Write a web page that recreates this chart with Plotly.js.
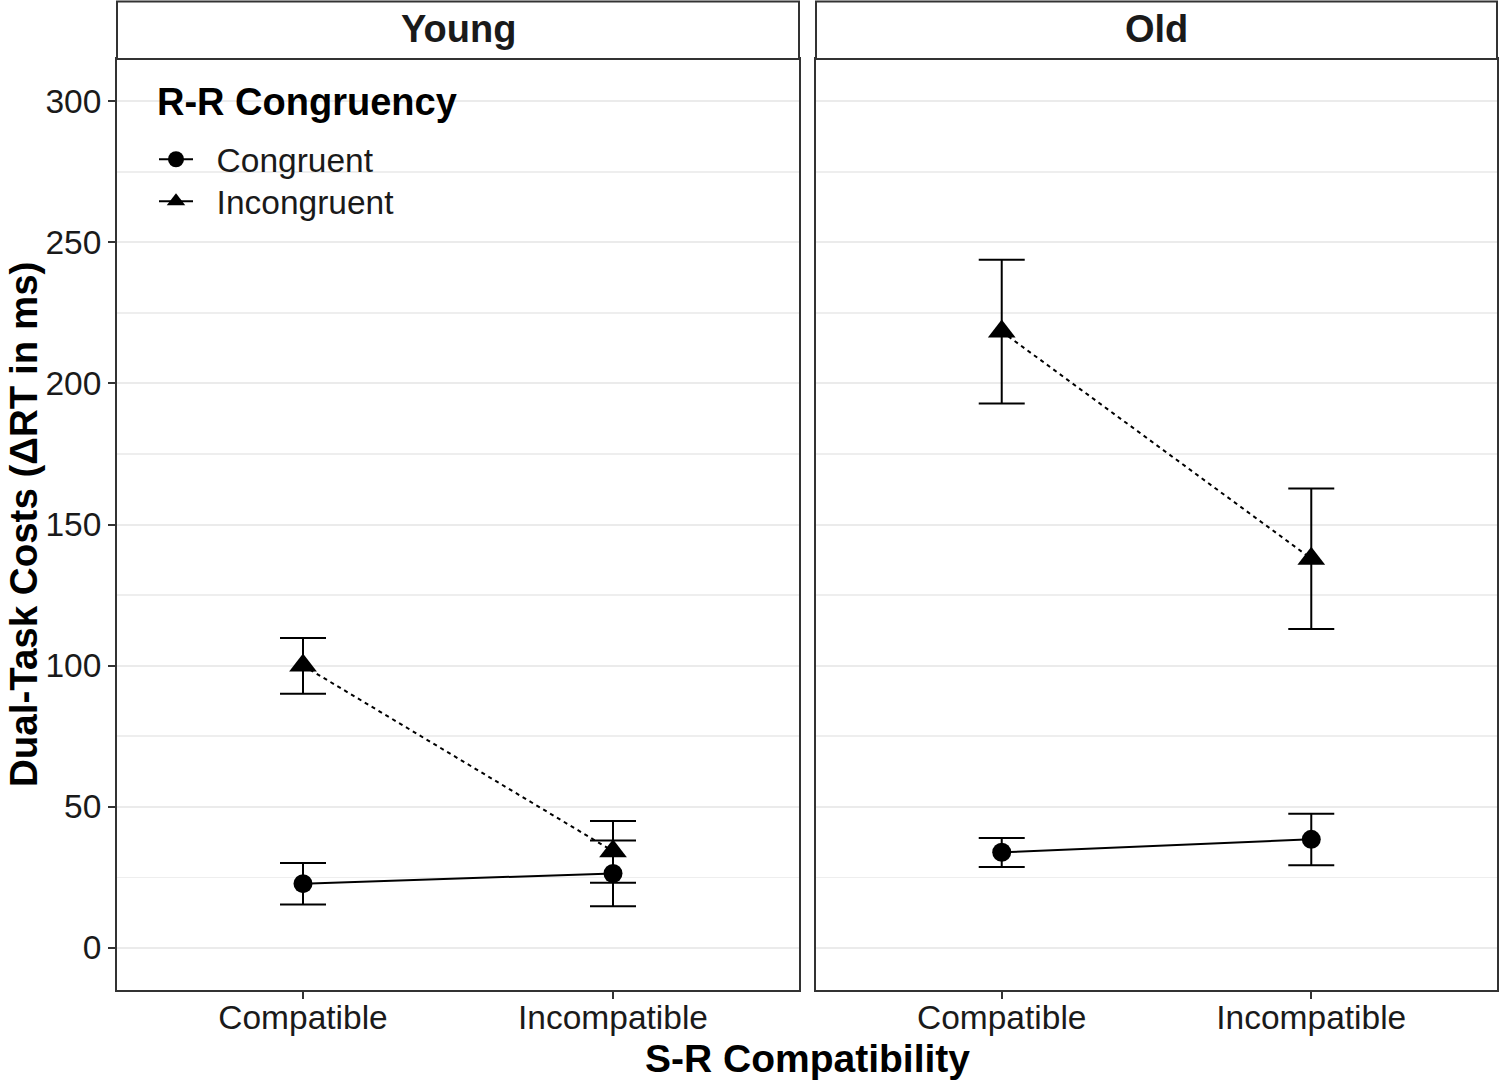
<!DOCTYPE html>
<html><head><meta charset="utf-8">
<script src="https://cdn.plot.ly/plotly-3.0.1.min.js"></script>
<style>html,body{margin:0;padding:0;background:#fff}</style>
</head><body><div id="chart" style="width:1499px;height:1081px"></div>
<script>
const categories = ['Compatible', 'Incompatible'];
const panels = ['Young', 'Old'];
const seriesNames = ['Congruent', 'Incongruent'];
const legendTitle = 'R-R Congruency';
const youngCongMean = [22.7, 26.3];
const youngCongLow = [15.3, 14.7];
const youngCongHigh = [30.0, 38.0];
const youngIncongMean = [100.0, 34.2];
const youngIncongLow = [90.0, 23.0];
const youngIncongHigh = [109.8, 44.9];
const oldCongMean = [33.8, 38.4];
const oldCongLow = [28.6, 29.2];
const oldCongHigh = [38.9, 47.5];
const oldIncongMean = [218.4, 137.9];
const oldIncongLow = [192.9, 113.0];
const oldIncongHigh = [243.8, 162.8];
const yTicks = [0, 50, 100, 150, 200, 250, 300];
const yTickText = ['0', '50', '100', '150', '200', '250', '300'];

const FONT = 'Liberation Sans, Arial, Helvetica, sans-serif';
const DARK = '#333333';
const NB = '\u00A0\u00A0';

function mk(mean, low, high, xa, ya, isCong) {
  return {
    type: 'scatter', mode: 'lines+markers',
    x: categories, y: mean, xaxis: xa, yaxis: ya,
    showlegend: false, hoverinfo: 'skip',
    line: {color: 'black', width: 2, dash: isCong ? 'solid' : '4px,4px'},
    marker: {symbol: isCong ? 'circle' : 'triangle-up', size: isCong ? 19 : 24, color: 'black'},
    error_y: {
      type: 'data', symmetric: false,
      array: high.map((h, i) => h - mean[i]),
      arrayminus: low.map((l, i) => mean[i] - l),
      color: 'black', thickness: 2, width: 23
    }
  };
}

const data = [
  mk(youngCongMean, youngCongLow, youngCongHigh, 'x', 'y', true),
  mk(youngIncongMean, youngIncongLow, youngIncongHigh, 'x', 'y', false),
  mk(oldCongMean, oldCongLow, oldCongHigh, 'x2', 'y2', true),
  mk(oldIncongMean, oldIncongLow, oldIncongHigh, 'x2', 'y2', false),
  {type: 'scatter', mode: 'lines+markers', x: [null], y: [null], name: NB + seriesNames[0], legend: 'legend',
   line: {color: 'black', width: 2}, marker: {symbol: 'circle', size: 18, color: 'black'}},
  {type: 'scatter', mode: 'lines+markers', x: [null], y: [null], name: NB + seriesNames[1], legend: 'legend2',
   line: {color: 'black', width: 2}, marker: {symbol: 'triangle-up', size: 20, color: 'black'}}
];

const plotH = 1081 - 59 - 91;
const plotW = 1499 - 117 - 2;
const px = v => (v - 117) / plotW;
const py = v => 1 - (v - 59) / plotH;

const legBase = {
  xanchor: 'left', yanchor: 'top',
  bgcolor: 'rgba(255,255,255,0)', borderwidth: 0,
  font: {family: FONT, size: 33.5, color: '#1a1a1a'},
  tracegroupgap: 0, itemwidth: 34
};

const xBase = {
  type: 'category', range: [-0.6, 1.6], fixedrange: true,
  showline: true, mirror: true, linecolor: DARK, linewidth: 2,
  ticks: 'outside', ticklen: 7, tickwidth: 2, tickcolor: DARK,
  ticklabelstandoff: -10,
  showgrid: false, zeroline: false,
  tickfont: {family: FONT, size: 33.5, color: '#1a1a1a'}
};
const yBase = {
  range: [-15, 315], fixedrange: true,
  tickmode: 'array', tickvals: yTicks, ticktext: yTickText,
  showline: true, mirror: true, linecolor: DARK, linewidth: 2,
  ticks: 'outside', ticklen: 7, tickwidth: 2, tickcolor: DARK,
  showgrid: true, gridcolor: '#EBEBEB', gridwidth: 2, zeroline: false,
  minor: {tickmode: 'linear', tick0: 0, dtick: 25, showgrid: true, gridcolor: '#EEEEEE', gridwidth: 1.3, ticks: ''},
  tickfont: {family: FONT, size: 33.5, color: '#1a1a1a'}
};

const stripTop = 1 + 57.5 / plotH;
const layout = {
  width: 1499, height: 1081,
  margin: {l: 117, r: 2, t: 59, b: 91},
  paper_bgcolor: 'white', plot_bgcolor: 'white',
  font: {family: FONT, color: '#1a1a1a'},
  showlegend: true,
  legend: Object.assign({}, legBase, {x: px(154), y: py(131)}),
  legend2: Object.assign({}, legBase, {x: px(154), y: py(173)}),
  xaxis: Object.assign({}, xBase, {domain: [0, 682 / plotW], anchor: 'y'}),
  xaxis2: Object.assign({}, xBase, {domain: [(816 - 117) / plotW, 1], anchor: 'y2'}),
  yaxis: Object.assign({}, yBase, {anchor: 'x'}),
  yaxis2: Object.assign({}, yBase, {anchor: 'x2', showticklabels: false, ticks: ''}),
  shapes: [
    {type: 'rect', xref: 'paper', yref: 'paper', x0: px(141), x1: px(478), y0: py(226), y1: py(80),
     fillcolor: 'white', line: {width: 0}, layer: 'between'},
    {type: 'rect', xref: 'x domain', yref: 'paper', x0: 0, x1: 1, y0: 1, y1: stripTop,
     fillcolor: 'white', line: {color: DARK, width: 2}, layer: 'above'},
    {type: 'rect', xref: 'x2 domain', yref: 'paper', x0: 0, x1: 1, y0: 1, y1: stripTop,
     fillcolor: 'white', line: {color: DARK, width: 2}, layer: 'above'}
  ],
  annotations: [
    {text: panels[0], xref: 'x domain', yref: 'paper', x: 0.5, y: 1 + 30 / plotH,
     xanchor: 'center', yanchor: 'middle', showarrow: false,
     font: {family: FONT, size: 38, weight: 'bold', color: '#1a1a1a'}},
    {text: panels[1], xref: 'x2 domain', yref: 'paper', x: 0.5, y: 1 + 30 / plotH,
     xanchor: 'center', yanchor: 'middle', showarrow: false,
     font: {family: FONT, size: 38, weight: 'bold', color: '#1a1a1a'}},
    {text: legendTitle, xref: 'paper', yref: 'paper', x: px(155), y: py(102),
     xanchor: 'left', yanchor: 'middle', showarrow: false,
     font: {family: FONT, size: 38, weight: 'bold', color: '#000'}},
    {text: 'S-R Compatibility', xref: 'paper', yref: 'paper', x: 0.5, y: py(1058),
     xanchor: 'center', yanchor: 'middle', showarrow: false,
     font: {family: FONT, size: 39, weight: 'bold', color: '#000'}},
    {text: 'Dual-Task Costs (ΔRT in ms)', xref: 'paper', yref: 'paper', x: px(23), y: py(525),
     xanchor: 'center', yanchor: 'middle', textangle: -90, showarrow: false,
     font: {family: FONT, size: 38.5, weight: 'bold', color: '#000'}}
  ]
};

Plotly.newPlot('chart', data, layout, {displayModeBar: false, staticPlot: true});
</script>
</body></html>
